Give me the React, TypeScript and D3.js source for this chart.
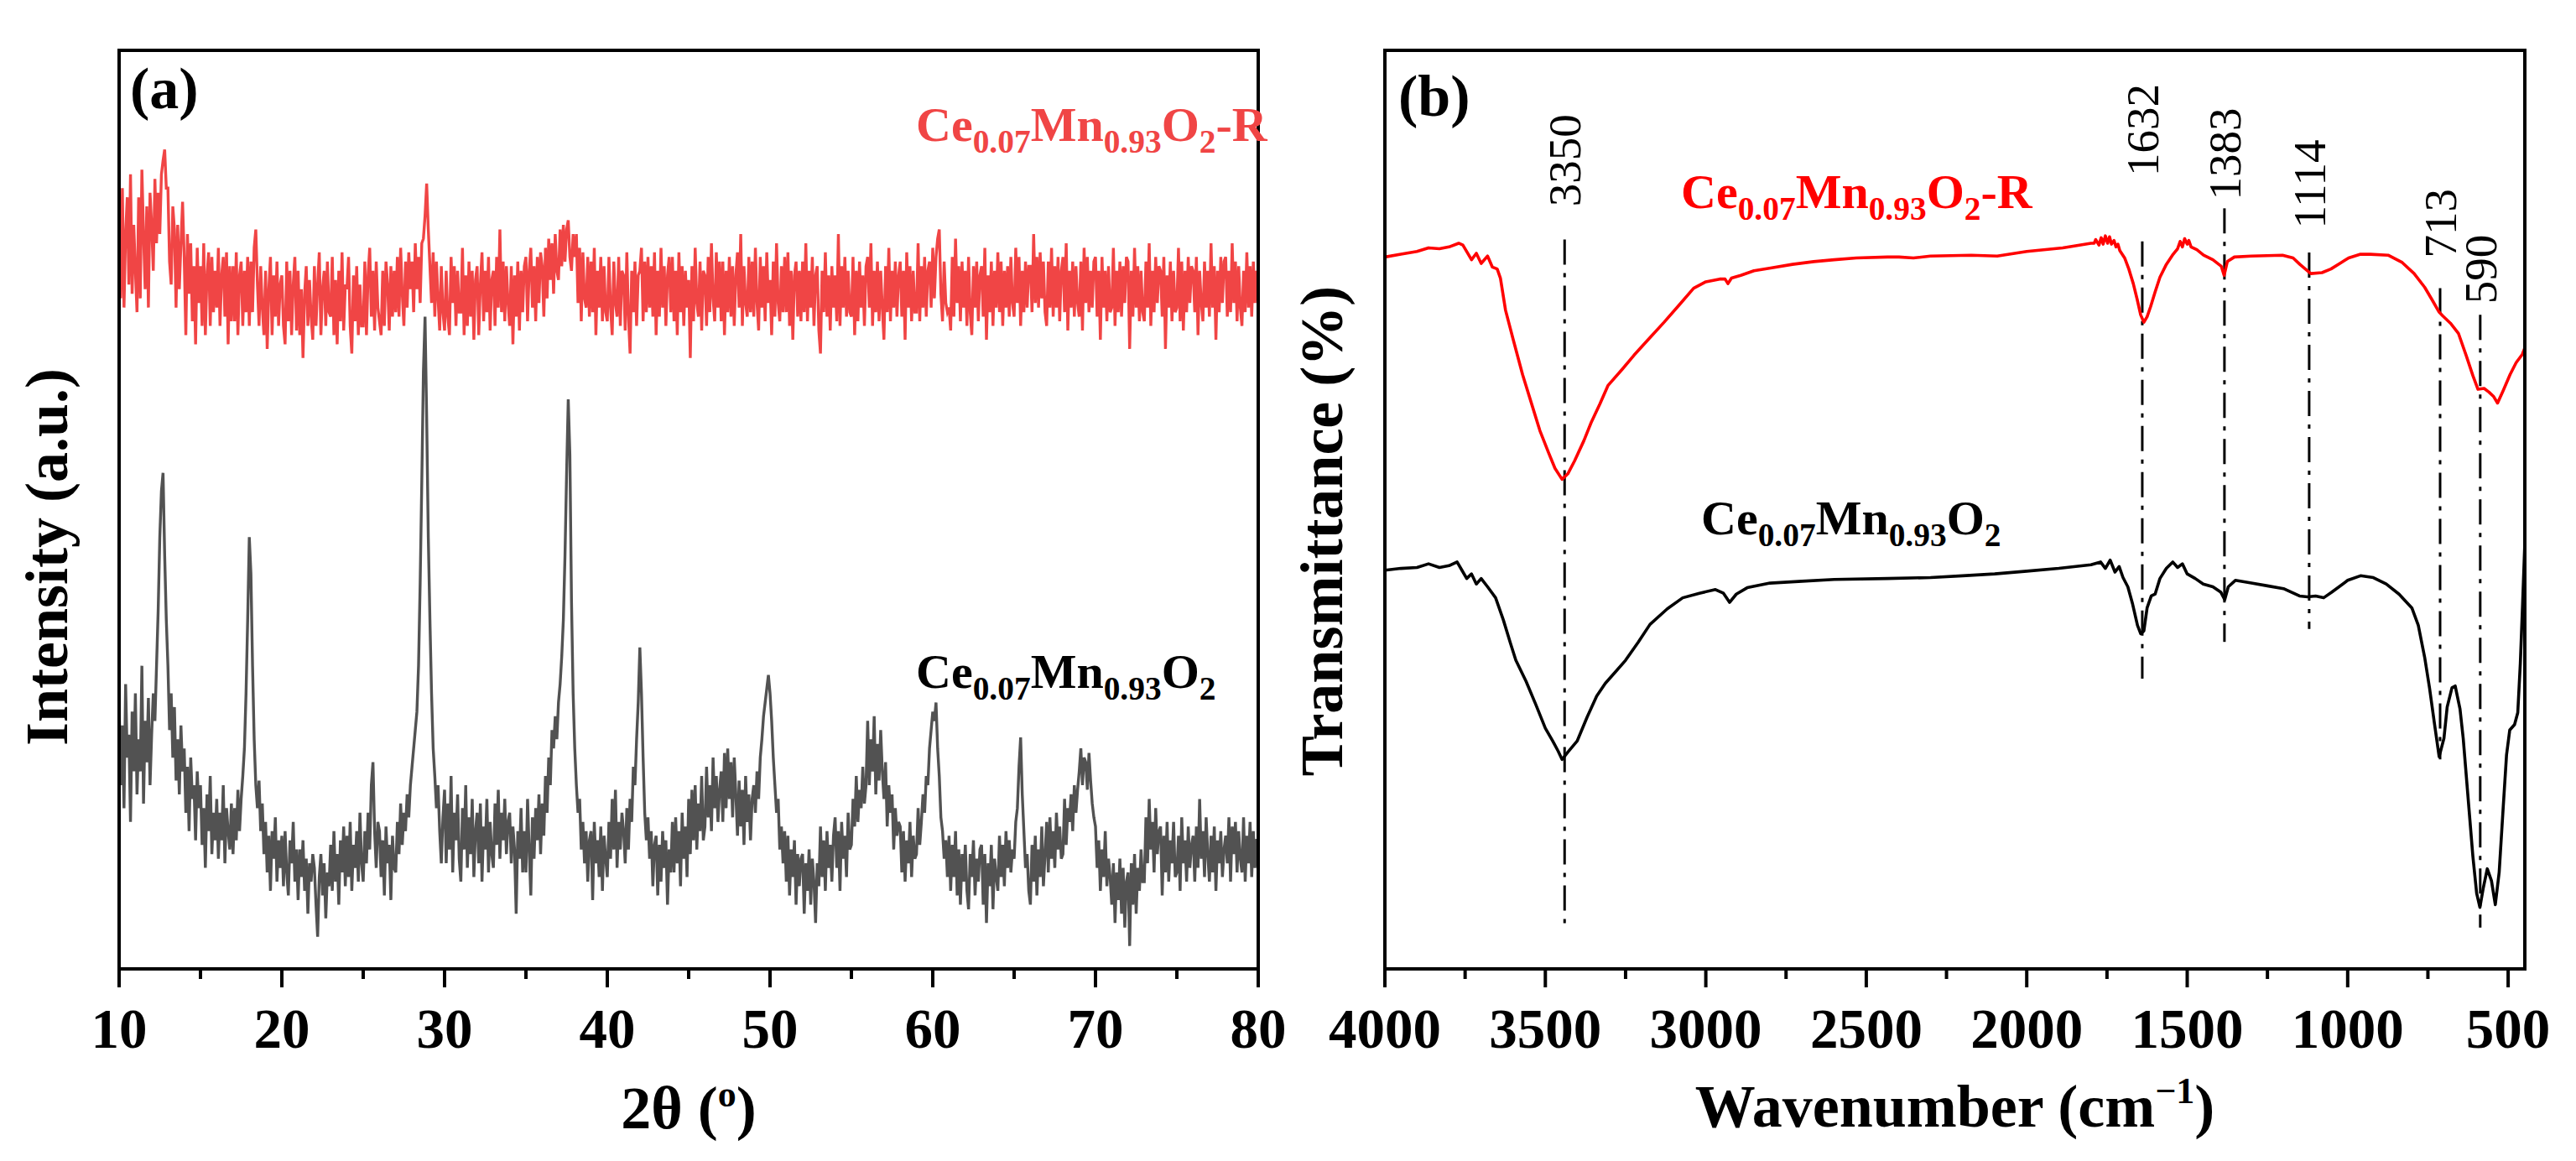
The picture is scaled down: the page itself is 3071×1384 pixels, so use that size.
import React from 'react';
import * as d3 from 'd3';

// ---------- DATA ----------
// XRD: 2θ grid start/step (0.1°), intensities (a.u.), one row per degree
const xrdStart = 10;
const xrdStep = 0.1;
const xrdPristine: number[] = [
  290,200,265,175,310,230,255,160,280,215,
  300,190,250,215,330,180,270,225,295,200,
  255,300,270,330,390,470,520,540,450,380,
  330,260,300,230,285,205,250,190,265,215,
  240,170,220,150,230,185,200,140,215,175,
  200,135,175,110,190,150,210,125,170,140,
  185,120,170,140,200,115,175,150,130,180,
  125,175,140,195,150,185,210,240,300,380,
  470,430,330,250,200,175,205,150,180,125,
  160,105,145,85,150,120,165,95,140,110,
  145,90,150,105,80,140,115,160,95,130,
  75,130,100,140,85,120,60,115,95,125,
  110,70,35,100,125,80,115,55,105,90,
  135,85,150,95,125,70,140,105,155,90,
  145,100,160,85,135,110,150,95,170,115,
  95,150,115,170,130,200,225,150,110,160,
  150,100,140,80,155,115,135,75,145,110,
  105,160,125,180,135,170,150,190,165,200,
  220,240,260,280,330,420,530,650,710,600,
  470,380,300,240,210,175,200,150,115,165,
  195,115,180,130,210,105,170,140,190,120,
  95,175,130,200,110,165,125,185,100,150,
  170,115,180,95,155,130,185,105,160,125,
  110,180,135,195,120,170,140,185,125,160,
  170,115,155,130,60,150,120,175,105,150,
  105,185,130,80,165,120,175,140,190,125,
  180,145,210,170,230,200,260,240,275,250,
  290,310,340,380,450,540,620,560,400,300,
  240,200,170,185,130,160,115,150,95,140,
  150,75,160,115,140,100,155,85,145,120,
  100,160,120,185,130,195,110,160,130,170,
  150,115,175,130,185,160,220,200,250,290,
  350,300,230,170,140,165,120,150,90,135,
  145,80,135,95,150,110,140,70,130,105,
  160,105,165,115,150,90,170,120,155,100,
  185,125,195,140,200,130,180,150,210,140,
  155,220,165,200,150,230,175,210,160,195,
  215,160,235,175,240,185,225,165,230,190,
  145,205,155,195,135,210,160,190,140,185,
  200,170,215,185,230,250,275,290,305,320,
  300,270,230,200,170,185,130,155,115,150,
  95,145,80,130,100,140,70,125,90,120,
  125,60,115,85,130,70,120,95,50,115,
  90,155,100,140,85,150,110,135,95,145,
  165,110,150,85,160,120,145,100,170,130,
  135,185,155,210,160,195,175,220,180,200,
  270,200,250,215,275,190,245,205,260,215,
  185,225,155,200,170,190,130,175,145,160,
  155,105,150,95,140,115,160,100,145,120,
  125,175,135,160,190,170,210,200,240,260,
  280,270,290,240,210,165,150,120,140,100,
  145,85,135,100,150,80,130,70,125,95,
  135,85,65,125,100,140,80,120,95,130,
  135,70,125,50,115,90,135,65,120,100,
  85,145,100,135,90,150,110,140,105,130,
  120,160,175,220,252,190,150,110,125,85,
  70,135,95,145,80,130,100,155,90,125,
  160,105,165,120,150,110,170,130,155,120,
  125,185,135,175,160,190,150,200,170,195,
  215,240,200,230,225,195,235,205,180,165,
  155,110,140,85,130,100,150,90,120,100,
  70,115,50,105,75,120,60,110,45,95,
  105,25,115,70,125,60,110,85,130,95,
  95,165,115,185,130,160,105,175,125,150,
  155,80,145,105,160,95,140,115,160,100,
  105,145,85,165,115,140,95,155,110,135,
  145,95,155,110,185,120,150,100,165,125,
  95,145,105,155,85,140,115,150,100,130,
  145,115,165,95,155,125,160,105,150,120,
  105,165,95,145,115,160,100,150,110,140,
  140,
];
const xrdReduced: number[] = [
  820,730,850,720,800,840,745,865,735,810,
  760,715,840,730,870,800,740,830,720,845,
  810,760,860,790,845,800,865,880,892,850,
  850,770,745,830,805,720,810,740,790,835,
  775,690,800,735,790,705,765,680,785,725,
  765,700,790,690,755,780,700,775,715,760,
  720,785,700,755,775,710,780,680,765,705,
  765,705,780,690,755,770,700,760,715,775,
  700,770,715,785,805,745,700,765,720,690,
  760,675,740,775,690,755,710,770,700,745,
  755,700,680,770,705,760,690,745,775,695,
  760,690,740,665,735,765,700,750,710,685,
  765,700,745,780,690,740,760,700,770,715,
  710,775,690,750,680,760,705,780,695,745,
  740,775,700,670,755,705,765,690,745,700,
  700,770,690,755,785,710,760,695,770,720,
  705,690,760,700,770,745,695,765,710,760,
  715,775,710,785,735,700,770,720,780,740,
  770,715,790,740,775,725,790,795,820,855,
  805,765,725,780,710,770,730,695,765,715,
  695,760,710,690,775,725,765,700,760,715,
  715,785,690,755,700,770,710,760,685,750,
  765,690,745,780,705,760,715,775,695,750,
  760,700,775,720,805,715,770,705,765,725,
  700,765,680,755,710,770,695,760,715,765,
  775,705,760,785,720,765,705,775,725,780,
  765,710,785,730,795,750,790,735,800,760,
  750,805,765,810,770,805,815,775,760,800,
  775,800,725,785,705,780,730,720,775,710,
  770,715,785,690,760,720,775,705,765,715,
  705,775,720,690,770,725,710,775,700,760,
  755,695,780,710,670,760,715,770,700,755,
  760,785,705,770,715,775,720,765,710,780,
  690,760,710,785,720,765,700,755,775,715,
  775,705,760,690,780,715,765,700,760,720,
  750,665,765,705,785,725,710,770,695,760,
  755,700,775,715,790,730,705,780,720,770,
  705,770,690,760,715,775,710,765,700,755,
  780,720,800,700,765,725,710,775,715,770,
  710,785,725,695,775,720,765,705,780,725,
  750,690,770,710,790,725,705,765,715,775,
  715,780,700,760,685,755,770,710,760,705,
  770,715,790,705,760,720,775,700,755,765,
  695,670,760,715,780,710,755,695,765,720,
  755,705,800,700,765,720,775,710,760,715,
  710,775,690,760,705,770,720,755,700,765,
  775,720,790,700,760,715,770,705,760,720,
  685,765,715,785,705,760,720,770,710,755,
  770,710,760,685,780,720,765,705,760,715,
  715,790,705,765,720,775,710,760,770,720,
  785,730,775,795,805,735,705,770,725,715,
  720,695,775,710,795,725,765,705,770,720,
  760,700,775,715,690,765,720,770,705,755,
  765,710,785,685,755,715,770,700,760,720,
  780,715,770,700,760,720,765,710,775,725,
  710,785,725,775,700,760,715,770,720,765,
  765,715,800,725,775,720,780,730,770,715,
  700,770,720,785,710,765,720,775,705,760,
  775,715,790,695,760,720,770,710,765,725,
  710,770,695,785,725,775,715,760,720,770,
  775,710,760,685,775,720,760,705,765,715,
  720,785,700,760,715,770,710,765,725,775,
  770,675,760,710,785,720,765,705,760,715,
  705,770,720,790,700,760,715,775,725,765,
  760,710,775,675,755,720,770,705,760,715,
  720,785,705,770,695,760,715,775,725,765,
  760,715,775,690,760,725,705,770,720,760,
  710,790,720,765,685,760,715,775,725,770,
  775,710,760,715,790,725,770,705,765,720,
  700,760,715,780,720,765,710,770,725,760,
  745,
];
const xrdTicks = [10, 20, 30, 40, 50, 60, 70, 80];
const xrdMinor = [15, 25, 35, 45, 55, 65, 75];

// FTIR: [wavenumber cm-1, transmittance (a.u.)]
const ftirReduced: [number, number][] = [
  [4000,77.5],[3950,77.8],[3900,78.1],[3864,78.5],[3830,78.4],[3800,78.6],[3770,79.0],[3757,78.8],
  [3745,78.1],[3730,77.2],[3715,77.9],[3700,76.8],[3680,77.6],[3665,76.4],[3650,76.2],[3640,75.2],
  [3624,71.7],[3600,68.5],[3571,64.7],[3540,61.2],[3517,58.6],[3490,56.2],[3470,54.5],[3448,53.3],
  [3430,53.9],[3409,55.3],[3380,57.5],[3357,59.5],[3330,61.5],[3305,63.5],[3260,65.3],[3224,66.8],
  [3180,68.5],[3130,70.4],[3080,72.4],[3038,74.1],[3000,74.8],[2957,75.1],[2940,75.1],[2931,74.6],
  [2920,75.2],[2891,75.5],[2850,76.0],[2798,76.3],[2730,76.7],[2664,77.0],[2600,77.2],[2531,77.4],
  [2434,77.5],[2398,77.5],[2353,77.4],[2300,77.6],[2173,77.7],[2092,77.6],[2000,78.1],[1888,78.5],
  [1800,79.0],[1790,79.0],[1785,79.4],[1775,78.8],[1768,79.6],[1762,78.9],[1755,79.8],[1748,79.0],
  [1742,79.7],[1736,78.9],[1728,79.3],[1722,78.6],[1716,78.9],[1710,78.2],[1695,77.4],[1682,76.2],
  [1668,74.6],[1656,72.9],[1645,71.2],[1635,70.4],[1625,71.0],[1614,72.1],[1600,73.7],[1585,75.3],
  [1565,76.7],[1546,77.7],[1530,78.4],[1522,79.2],[1515,78.6],[1508,79.5],[1500,78.9],[1495,79.3],
  [1488,78.6],[1470,78.3],[1449,77.7],[1420,77.2],[1394,76.5],[1385,75.5],[1375,77.0],[1353,77.5],
  [1300,77.6],[1203,77.7],[1170,77.4],[1149,76.7],[1115,75.7],[1080,75.8],[1052,76.2],[1020,76.9],
  [997,77.4],[960,77.8],[929,77.8],[874,77.7],[830,76.9],[793,75.7],[760,74.2],[738,72.9],
  [715,71.5],[704,71.1],[680,70.3],[655,69.2],[630,66.7],[610,64.6],[594,63.1],[575,63.2],
  [560,62.8],[545,62.3],[533,61.6],[515,63.0],[494,64.7],[475,66.0],[456,66.9],[448,67.6],
];
const ftirPristine: [number, number][] = [
  [4000,43.4],[3950,43.6],[3900,43.7],[3864,44.1],[3830,43.7],[3800,43.9],[3775,44.3],[3760,43.4],
  [3745,42.5],[3730,43.0],[3715,41.9],[3700,42.5],[3680,41.6],[3655,40.4],[3631,38.0],[3610,35.6],
  [3592,33.6],[3560,31.3],[3530,28.8],[3500,26.2],[3477,24.8],[3460,23.7],[3448,22.8],[3430,23.6],
  [3401,24.8],[3370,27.4],[3340,29.7],[3313,31.1],[3280,32.4],[3250,33.6],[3210,35.6],[3174,37.5],
  [3120,39.2],[3072,40.4],[3020,40.9],[2970,41.3],[2945,40.9],[2926,39.9],[2905,40.8],[2871,41.5],
  [2800,42.0],[2700,42.2],[2600,42.4],[2434,42.5],[2300,42.6],[2200,42.8],[2100,43.0],[2000,43.3],
  [1900,43.6],[1800,44.0],[1770,44.3],[1755,43.6],[1740,44.5],[1725,43.2],[1712,43.8],[1700,42.6],
  [1685,41.6],[1670,39.7],[1655,37.4],[1645,36.5],[1635,36.8],[1625,39.3],[1612,40.6],[1600,40.8],
  [1585,42.5],[1565,43.6],[1545,44.3],[1530,43.7],[1515,44.1],[1500,43.0],[1475,42.5],[1450,41.9],
  [1420,41.6],[1395,41.0],[1383,40.2],[1372,41.6],[1350,42.3],[1300,42.0],[1250,41.7],[1200,41.4],
  [1150,40.6],[1125,40.5],[1100,40.6],[1075,40.4],[1050,41.0],[1000,42.3],[960,42.8],[920,42.6],
  [880,41.9],[840,40.8],[800,39.3],[780,37.4],[760,33.9],[745,30.6],[730,26.8],[715,23.1],
  [700,25.1],[690,28.5],[675,30.6],[665,30.8],[650,28.3],[640,25.1],[625,18.7],[610,12.3],
  [598,8.2],[588,6.7],[578,8.7],[565,10.9],[552,9.6],[540,7.0],[528,10.5],[515,17.8],
  [505,23.3],[495,26.0],[480,26.6],[470,27.9],[462,33.3],[455,39.7],[448,46.4],
];
const ftirTicks = [4000, 3500, 3000, 2500, 2000, 1500, 1000, 500];
const ftirMinor = [3750, 3250, 2750, 2250, 1750, 1250, 750];
// band markers: drawn wavenumber, label, line top/bottom and label start (transmittance units)
const bandMarks = [
  { wn: 3440, label: '3350', top: 79.4, bottom: 4.1, labelAt: 83.0 },
  { wn: 1640, label: '1632', top: 79.2, bottom: 31.6, labelAt: 86.3 },
  { wn: 1384, label: '1383', top: 82.8, bottom: 35.6, labelAt: 83.7 },
  { wn: 1120, label: '1114', top: 78.0, bottom: 37.0, labelAt: 80.6 },
  { wn: 712, label: '713', top: 74.1, bottom: 22.8, labelAt: 77.4 },
  { wn: 587, label: '590', top: 71.2, bottom: 4.5, labelAt: 72.4 },
];

const FONT = "'Liberation Serif','Times New Roman',Times,serif";

function Formula(props: { x: number; y: number; size: number; fill: string; weight: number | string; suffix?: string }) {
  const { x, y, size, fill, weight, suffix } = props;
  const s = size * 0.68;
  const d = size * 0.24;
  return (
    <text x={x} y={y} fontSize={size} fill={fill} fontWeight={weight} fontFamily={FONT}>
      Ce
      <tspan fontSize={s} dy={d}>0.07</tspan>
      <tspan fontSize={size} dy={-d}>Mn</tspan>
      <tspan fontSize={s} dy={d}>0.93</tspan>
      <tspan fontSize={size} dy={-d}>O</tspan>
      <tspan fontSize={s} dy={d}>2</tspan>
      {suffix ? <tspan fontSize={size} dy={-d}>{suffix}</tspan> : null}
    </text>
  );
}

export default function App() {
  const W = 3071, H = 1384;
  const top = 60, bottom = 1155;
  const aL = 142, aR = 1500, bL = 1651, bR = 3010;

  const xA = d3.scaleLinear().domain([10, 80]).range([aL, aR]);
  const yA = d3.scaleLinear().domain([0, 1000]).range([bottom, top]);
  const xB = d3.scaleLinear().domain([4000, 448]).range([bL, bR]);
  const yB = d3.scaleLinear().domain([0, 100]).range([bottom, top]);

  const lineA = d3.line<number>().x((_, i) => xA(xrdStart + i * xrdStep)).y((v) => yA(v));
  const lineB = d3.line<[number, number]>().x((d) => xB(d[0])).y((d) => yB(d[1]));

  const tickMajor = 22, tickMinor = 12, axisW = 4;
  const tickFs = 67;

  return (
    <svg width={W} height={H} viewBox={`0 0 ${W} ${H}`} style={{ position: 'fixed', left: 0, top: 0, background: '#fff' }}>
      <defs>
        <clipPath id="clipA"><rect x={aL} y={top} width={aR - aL} height={bottom - top} /></clipPath>
        <clipPath id="clipB"><rect x={bL} y={top} width={bR - bL} height={bottom - top} /></clipPath>
      </defs>
      <rect x={0} y={0} width={W} height={H} fill="#fff" />

      {/* ---------- Panel (a) ---------- */}
      <g clipPath="url(#clipA)">
        <path d={lineA(xrdReduced) || ''} fill="none" stroke="#f04545" strokeWidth={3.4} strokeLinejoin="miter" />
        <path d={lineA(xrdPristine) || ''} fill="none" stroke="#525252" strokeWidth={3.4} strokeLinejoin="miter" />
      </g>
      <rect x={aL} y={top} width={aR - aL} height={bottom - top} fill="none" stroke="#000" strokeWidth={axisW} />
      {xrdTicks.map((t) => (
        <g key={'ta' + t}>
          <line x1={xA(t)} x2={xA(t)} y1={bottom} y2={bottom + tickMajor} stroke="#000" strokeWidth={axisW} />
          <text x={xA(t)} y={1249} textAnchor="middle" fontSize={tickFs} fontWeight="bold" fontFamily={FONT}>{t}</text>
        </g>
      ))}
      {xrdMinor.map((t) => (
        <line key={'ma' + t} x1={xA(t)} x2={xA(t)} y1={bottom} y2={bottom + tickMinor} stroke="#000" strokeWidth={axisW} />
      ))}
      <text x={155} y={129} fontSize={70} fontWeight="bold" fontFamily={FONT}>(a)</text>
      <Formula x={1092} y={168} size={58} fill="#f04545" weight="bold" suffix="-R" />
      <Formula x={1092} y={820} size={58} fill="#000" weight="bold" />
      <text x={(aL + aR) / 2} y={1345} textAnchor="middle" fontSize={72} fontWeight="bold" fontFamily={FONT}>
        2θ (<tspan fontSize={44} dy={-26}>o</tspan><tspan dy={26}>)</tspan>
      </text>
      <text transform={`translate(80,664) rotate(-90)`} textAnchor="middle" fontSize={72} fontWeight="bold" fontFamily={FONT}>
        Intensity (a.u.)
      </text>

      {/* ---------- Panel (b) ---------- */}
      {bandMarks.map((m) => (
        <line key={'bm' + m.wn} x1={xB(m.wn)} x2={xB(m.wn)} y1={yB(m.top)} y2={yB(m.bottom)}
          stroke="#000" strokeWidth={3} strokeDasharray="30 10 5 10" />
      ))}
      <g clipPath="url(#clipB)">
        <path d={lineB(ftirReduced) || ''} fill="none" stroke="#ff0000" strokeWidth={3.6} strokeLinejoin="round" />
        <path d={lineB(ftirPristine) || ''} fill="none" stroke="#000" strokeWidth={3.6} strokeLinejoin="round" />
      </g>
      {bandMarks.map((m) => (
        <text key={'bl' + m.wn} transform={`translate(${xB(m.wn) + 19},${yB(m.labelAt)}) rotate(-90)`}
          fontSize={55} fontFamily={FONT} fill="#000">{m.label}</text>
      ))}
      <rect x={bL} y={top} width={bR - bL} height={bottom - top} fill="none" stroke="#000" strokeWidth={axisW} />
      {ftirTicks.map((t) => (
        <g key={'tb' + t}>
          <line x1={xB(t)} x2={xB(t)} y1={bottom} y2={bottom + tickMajor} stroke="#000" strokeWidth={axisW} />
          <text x={xB(t)} y={1249} textAnchor="middle" fontSize={tickFs} fontWeight="bold" fontFamily={FONT}>{t}</text>
        </g>
      ))}
      {ftirMinor.map((t) => (
        <line key={'mb' + t} x1={xB(t)} x2={xB(t)} y1={bottom} y2={bottom + tickMinor} stroke="#000" strokeWidth={axisW} />
      ))}
      <text x={1667} y={138} fontSize={70} fontWeight="bold" fontFamily={FONT}>(b)</text>
      <Formula x={2004} y={248} size={58} fill="#ff0000" weight="bold" suffix="-R" />
      <Formula x={2028} y={637} size={58} fill="#000" weight="bold" />
      <text x={(bL + bR) / 2} y={1343} textAnchor="middle" fontSize={72} fontWeight="bold" fontFamily={FONT}>
        Wavenumber (cm<tspan fontSize={44} dy={-28}>−1</tspan><tspan dy={28}>)</tspan>
      </text>
      <text transform={`translate(1600,633) rotate(-90)`} textAnchor="middle" fontSize={72} fontWeight="bold" fontFamily={FONT}>
        Transmittance (%)
      </text>
    </svg>
  );
}
